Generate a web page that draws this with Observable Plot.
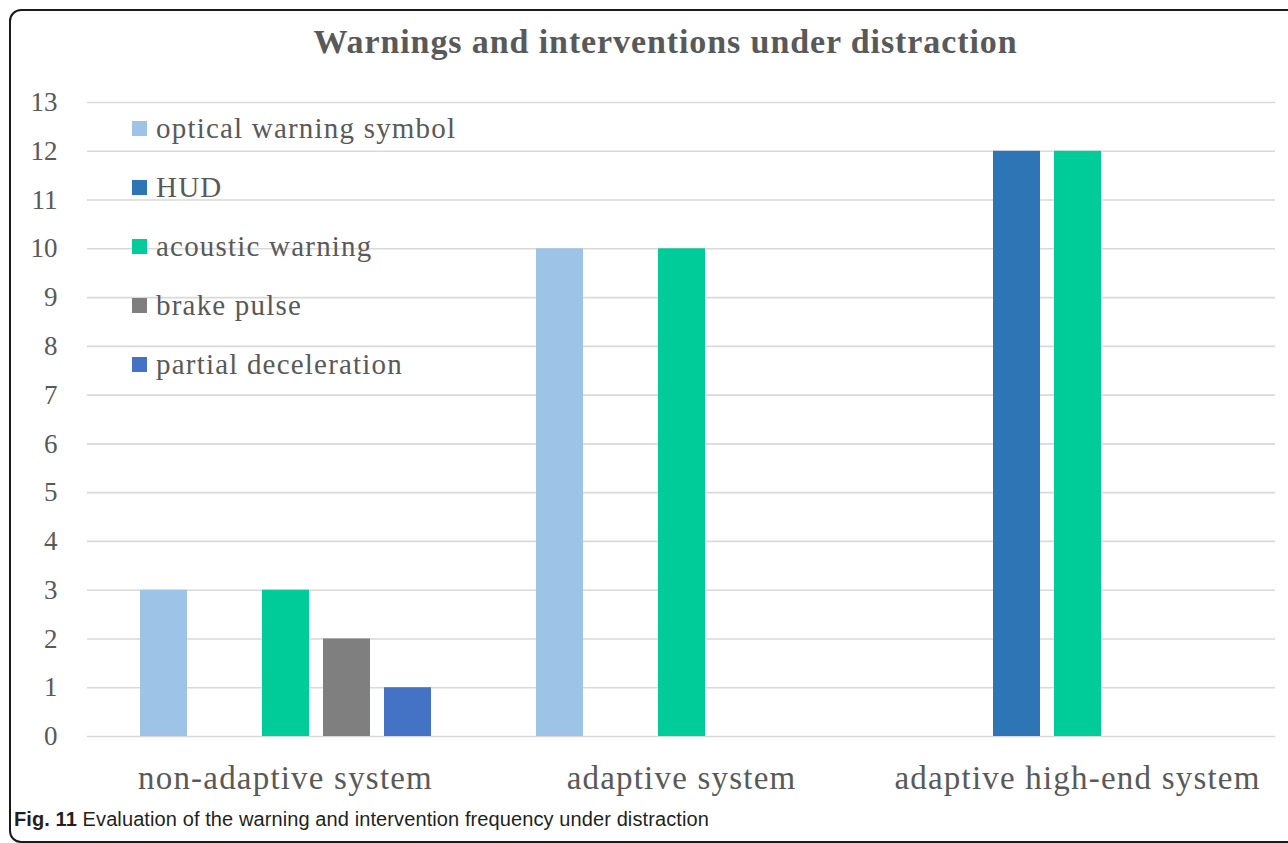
<!DOCTYPE html>
<html>
<head>
<meta charset="utf-8">
<script src="https://cdn.jsdelivr.net/npm/d3@7"></script>
<script src="https://cdn.jsdelivr.net/npm/@observablehq/plot@0.6"></script>
<style>
  html, body { margin: 0; padding: 0; background: #fff; width: 1288px; height: 843px; overflow: hidden; }
  #frame { position: absolute; left: 9px; top: 9px; width: 1300px; height: 834px; border: 2px solid #1a1a1a; border-radius: 12px; box-sizing: border-box; }
  #title { position: absolute; left: 0; width: 1331px; top: 22px; text-align: center; font-family: "Liberation Serif", serif; font-weight: bold; font-size: 34px; letter-spacing: 0.9px; color: #595959; line-height: 40px; }
  #chart { position: absolute; left: 0; top: 70px; }
  #legend { position: absolute; left: 132px; top: 0; font-family: "Liberation Serif", serif; font-size: 29px; color: #595959; letter-spacing: 1.2px; }
  .item { position: absolute; left: 0; white-space: nowrap; height: 30px; line-height: 30px; }
  .sw { position: absolute; left: 0; top: 8px; width: 15px; height: 15px; }
  .lab { position: absolute; left: 24px; top: 0; }
  #caption { position: absolute; left: 14px; top: 808px; line-height: 22px; font-family: "Liberation Sans", sans-serif; font-size: 20px; letter-spacing: 0.1px; color: #231f20; white-space: nowrap; }
</style>
</head>
<body>
<div id="frame"></div>
<div id="title"></div>
<div id="chart"></div>
<div id="legend"></div>
<div id="caption"><b>Fig. 11</b> Evaluation of the warning and intervention frequency under distraction</div>
<script>
const titleText = "Warnings and interventions under distraction";
const categories = ["non-adaptive system", "adaptive system", "adaptive high-end system"];
const seriesNames = ["optical warning symbol", "HUD", "acoustic warning", "brake pulse", "partial deceleration"];
const seriesColors = ["#9dc3e6", "#2e75b6", "#00cc99", "#7f7f7f", "#4472c4"];
const opticalWarning = [3, 10, 0];
const hud = [0, 0, 12];
const acousticWarning = [3, 10, 12];
const brakePulse = [2, 0, 0];
const partialDeceleration = [1, 0, 0];
const yTicks = [0,1,2,3,4,5,6,7,8,9,10,11,12,13];

document.getElementById("title").textContent = titleText;

const seriesValues = [opticalWarning, hud, acousticWarning, brakePulse, partialDeceleration];
const data = [];
categories.forEach((c, ci) => {
  seriesNames.forEach((s, si) => {
    data.push({category: c, series: s, value: seriesValues[si][ci]});
  });
});

const chart = Plot.plot({
  width: 1288,
  height: 730,
  marginLeft: 87,
  marginRight: 13,
  marginTop: 32,
  marginBottom: 64,
  style: { fontFamily: "Liberation Serif, serif", color: "#595959", background: "transparent", overflow: "visible" },
  fx: { domain: categories, padding: 0, label: null },
  x: { domain: seriesNames, paddingInner: 0.23, paddingOuter: 0.86, axis: null },
  y: { domain: [0, 13], label: null },
  color: { domain: seriesNames, range: seriesColors },
  marks: [
    Plot.ruleY(yTicks, { stroke: "#d9d9d9", strokeWidth: 1.6 }),
    Plot.barY(data.filter(d => d.value > 0), { fx: "category", x: "series", y: "value", fill: "series" }),
    Plot.axisY(yTicks, { tickSize: 0, tickPadding: 30, fontSize: 27, label: null, fill: "#595959" }),
    Plot.axisFx({ anchor: "bottom", tickSize: 0, tickPadding: 29, fontSize: 33, label: null, fill: "#595959" })
  ]
});
document.getElementById("chart").appendChild(chart);
chart.querySelectorAll('g[aria-label="fx-axis tick label"] text').forEach(t => t.setAttribute("letter-spacing", "1.2"));

const legendTops = [128, 187, 246, 305, 364];
const legend = document.getElementById("legend");
seriesNames.forEach((s, i) => {
  const item = document.createElement("div");
  item.className = "item";
  item.style.top = (legendTops[i] - 15) + "px";
  const sw = document.createElement("div");
  sw.className = "sw";
  sw.style.background = seriesColors[i];
  const lab = document.createElement("div");
  lab.className = "lab";
  lab.textContent = s;
  item.appendChild(sw);
  item.appendChild(lab);
  legend.appendChild(item);
});
</script>
</body>
</html>
